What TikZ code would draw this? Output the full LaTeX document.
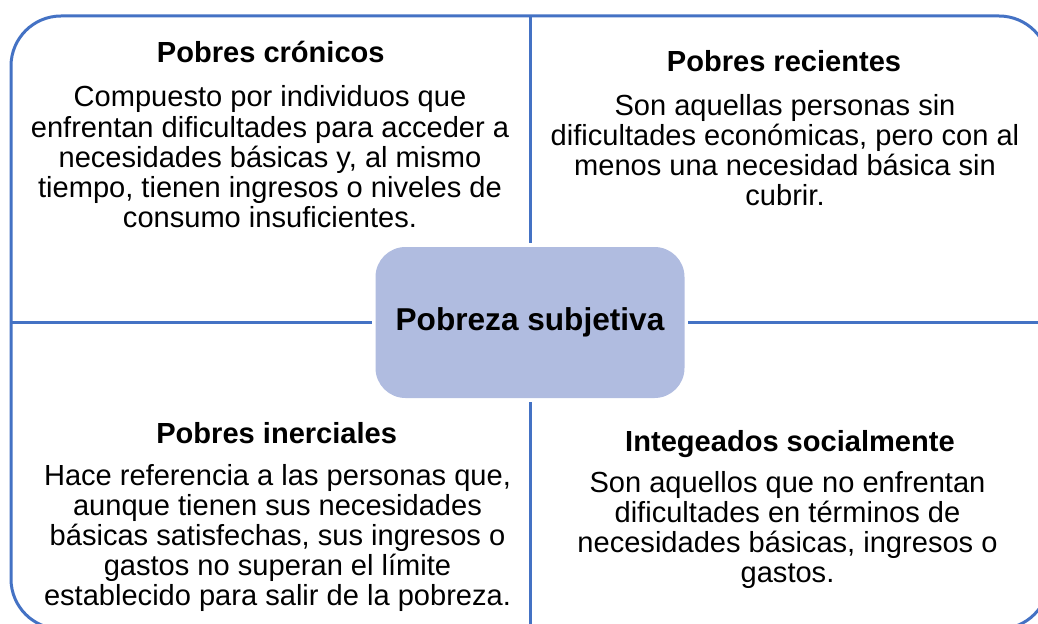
\documentclass[tikz,border=0pt]{standalone}
\usepackage{fontspec}
\setmainfont{Liberation Sans}
\definecolor{frameblue}{HTML}{4472C4}
\definecolor{boxfill}{HTML}{B0BCE0}
\setlength{\lineskiplimit}{-100pt}

\begin{document}
\begin{tikzpicture}[x=0.75pt,y=-0.75pt,
	frame/.style={draw=frameblue,line width=2.25pt,rounded corners=37.5pt,
	minimum width=778.5pt,minimum height=459.75pt,inner sep=0pt,outer sep=0pt},
	core/.style={fill=boxfill,rounded corners=22.5pt,minimum width=231.75pt,
	minimum height=113.25pt,inner sep=0pt,font=\bfseries\fontsize{23.7}{28}\selectfont},
	divider/.style={draw=frameblue,line width=2.25pt,shorten >=2.5pt},
	heading/.style={anchor=base,inner sep=0pt,font=\bfseries\fontsize{21.8}{22.5}\selectfont},
	blurb/.style={anchor=base,inner sep=0pt,align=center,font=\fontsize{21.8}{22.5}\selectfont}]
\useasboundingbox (0,0) rectangle (1038,624);
\clip (0,0) rectangle (1038,624);
\node[frame] (frame) at (530,322.5) {};
\node[core] (core) at (530,322.5) {Pobreza subjetiva};
\draw[divider] (frame.west) -- (core.west);
\draw[divider] (frame.east) -- (core.east);
\draw[divider] (frame.north) -- (core.north);
\draw[divider] (frame.south) -- (core.south);
% cuadrante superior izquierdo (base = ultima linea)
\node[heading] (cronicos) at (270.8,63) {Pobres crónicos};
\node[blurb] (cronicostxt) at (270,227) {Compuesto por individuos que\\
	enfrentan dificultades para acceder a\\ necesidades básicas y, al mismo\\
	tiempo, tienen ingresos o niveles de\\ consumo insuficientes.};
% cuadrante superior derecho
\node[heading] (recientes) at (784,72) {Pobres recientes};
\node[blurb] (recientestxt) at (785,205) {Son aquellas personas sin\\
	dificultades económicas, pero con al\\ menos una necesidad básica sin\\ cubrir.};
% cuadrante inferior izquierdo
\node[heading] (inerciales) at (276.7,443.5) {Pobres inerciales};
\node[blurb] (inercialestxt) at (277.5,605) {Hace referencia a las personas que,\\
	aunque tienen sus necesidades\\ básicas satisfechas, sus ingresos o\\
	gastos no superan el límite\\ establecido para salir de la pobreza.};
% cuadrante inferior derecho
\node[heading] (integrados) at (790,451.7) {Integeados socialmente};
\node[blurb] (integradostxt) at (787.5,582) {Son aquellos que no enfrentan\\
	dificultades en términos de\\ necesidades básicas, ingresos o\\ gastos.};
\end{tikzpicture}
\end{document}
